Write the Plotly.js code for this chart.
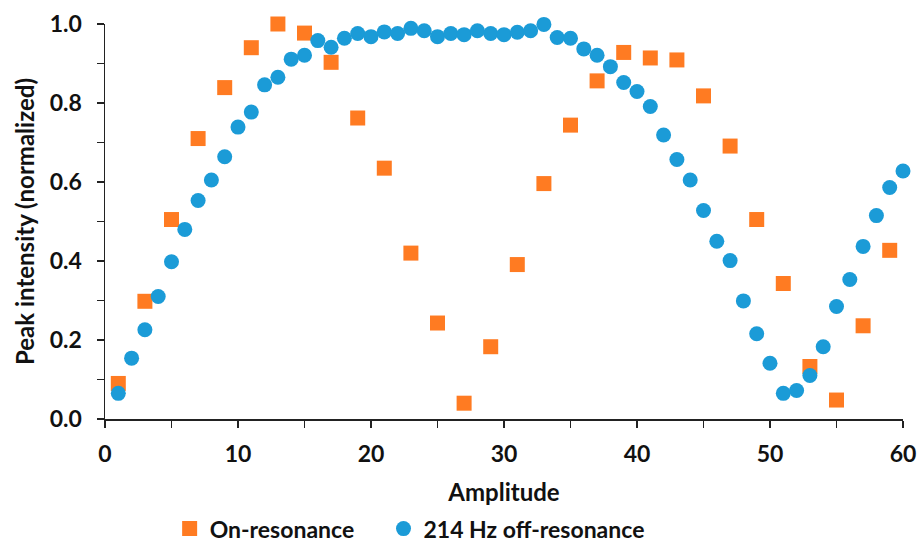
<!DOCTYPE html>
<html>
<head>
<meta charset="utf-8">
<script src="https://cdn.plot.ly/plotly-3.0.1.min.js"></script>
<style>html,body{margin:0;padding:0;background:#fff;}#chart{width:917px;height:545px;}</style>
</head>
<body>
<div id="chart"></div>
<script>
// On-resonance (odd amplitudes)
const onResX = [1,3,5,7,9,11,13,15,17,19,21,23,25,27,29,31,33,35,37,39,41,43,45,47,49,51,53,55,57,59];
const onResY = [0.09,0.298,0.505,0.71,0.839,0.94,1.0,0.977,0.903,0.762,0.635,0.42,0.243,0.04,0.183,0.391,0.596,0.744,0.856,0.928,0.914,0.909,0.818,0.691,0.505,0.343,0.133,0.048,0.236,0.427];
// 214 Hz off-resonance (every amplitude 1..60)
const offResX = [1,2,3,4,5,6,7,8,9,10,11,12,13,14,15,16,17,18,19,20,21,22,23,24,25,26,27,28,29,30,31,32,33,34,35,36,37,38,39,40,41,42,43,44,45,46,47,48,49,50,51,52,53,54,55,56,57,58,59,60];
const offResY = [0.065,0.154,0.226,0.31,0.398,0.48,0.553,0.605,0.664,0.739,0.777,0.846,0.865,0.911,0.921,0.958,0.941,0.964,0.976,0.968,0.98,0.976,0.989,0.983,0.968,0.976,0.973,0.983,0.976,0.973,0.979,0.983,0.999,0.966,0.964,0.937,0.921,0.892,0.852,0.829,0.791,0.719,0.657,0.605,0.528,0.45,0.401,0.299,0.216,0.141,0.065,0.072,0.11,0.183,0.285,0.353,0.437,0.515,0.586,0.628];
const seriesNames = ['On-resonance', '214 Hz off-resonance'];
const xTickVals = [0,10,20,30,40,50,60];
const yTickVals = [0,0.2,0.4,0.6,0.8,1.0];
const yTickText = ['0.0','0.2','0.4','0.6','0.8','1.0'];

const FONT = 'Lato, "Open Sans", sans-serif';
const traces = [
  {x: onResX, y: onResY, name: seriesNames[0], type: 'scatter', mode: 'markers', cliponaxis: false,
   legend: 'legend', marker: {symbol: 'square', size: 15, color: '#FF7B22'}},
  {x: offResX, y: offResY, name: seriesNames[1], type: 'scatter', mode: 'markers', cliponaxis: false,
   legend: 'legend2', marker: {symbol: 'circle', size: 15, color: '#1B9BD7'}}
];
const axisCommon = {
  showgrid: false, zeroline: false, showline: true, linecolor: '#222', linewidth: 1.5,
  ticks: 'outside', ticklen: 7, tickwidth: 1.5, tickcolor: '#222',
  tickfont: {family: FONT, size: 23, color: '#111', weight: 'bold'}
};
const legendFont = {family: FONT, size: 23, color: '#111', weight: 'bold'};
const layout = {
  width: 917, height: 545,
  margin: {l: 105, r: 14, t: 24, b: 126, autoexpand: false},
  paper_bgcolor: '#fff', plot_bgcolor: '#fff',
  font: {family: FONT, color: '#111'},
  xaxis: Object.assign({}, axisCommon, {
    range: [0, 60], tickvals: xTickVals, ticktext: xTickVals.map(String),
    minor: {dtick: 5, tick0: 0, ticks: 'outside', ticklen: 7, tickwidth: 1.5, tickcolor: '#222'},
    ticklabelstandoff: 7,
    title: {text: 'Amplitude', font: {family: FONT, size: 24, color: '#111', weight: 'bold'}, standoff: 18}
  }),
  yaxis: Object.assign({}, axisCommon, {
    range: [0, 1.0], tickvals: yTickVals, ticktext: yTickText,
    minor: {dtick: 0.1, tick0: 0, ticks: 'outside', ticklen: 7, tickwidth: 1.5, tickcolor: '#222'},
    ticklabelstandoff: 10,
    title: {text: 'Peak intensity (normalized)', font: {family: FONT, size: 24, color: '#111', weight: 'bold'}, standoff: 8}
  }),
  showlegend: true,
  legend: {orientation: 'h', x: 0.081, xanchor: 'left', yref: 'container', y: 0.03, yanchor: 'middle',
    font: legendFont, itemclick: false, bgcolor: 'rgba(0,0,0,0)'},
  legend2: {orientation: 'h', x: 0.349, xanchor: 'left', yref: 'container', y: 0.03, yanchor: 'middle',
    font: legendFont, itemclick: false, bgcolor: 'rgba(0,0,0,0)'}
};
Plotly.newPlot('chart', traces, layout, {displayModeBar: false, staticPlot: true});
</script>
</body>
</html>
